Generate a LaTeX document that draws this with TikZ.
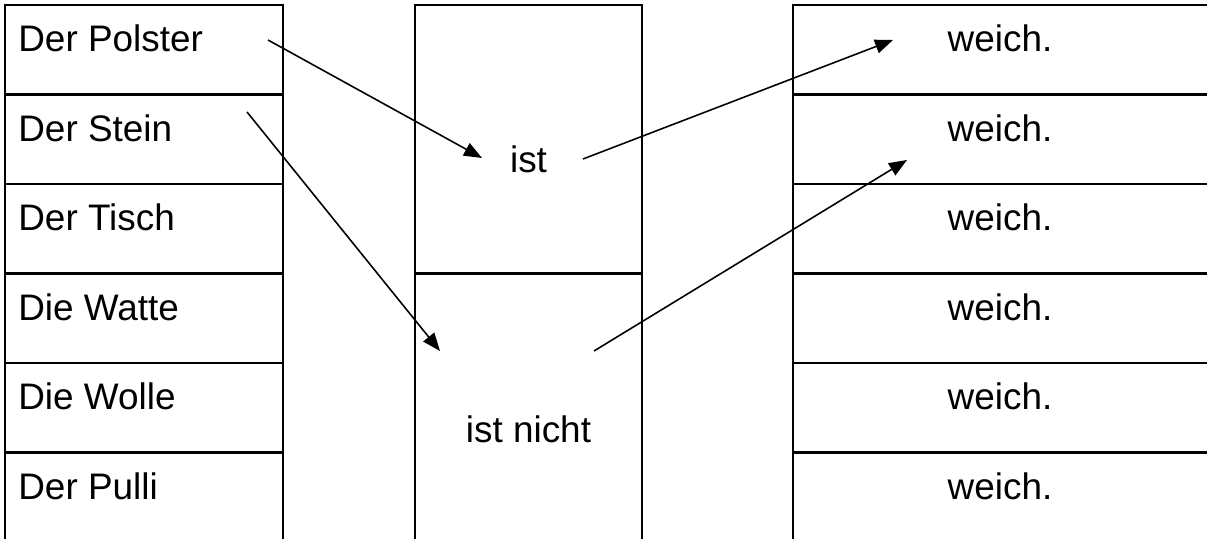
\documentclass[tikz,border=0pt]{standalone}
\usepackage{fontspec}
\setmainfont{Liberation Sans}
\usetikzlibrary{calc, positioning, arrows.meta}

\begin{document}
\begin{tikzpicture}[
  box/.style={line width=1.3pt},
  word/.style={anchor=base west, inner sep=0pt, font=\fontsize{21}{25}\selectfont},
  ending/.style={anchor=base, inner sep=0pt, font=\fontsize{21}{25}\selectfont},
  link/.style={line width=0.9pt, -{Triangle[length=0.36cm, width=0.28cm]}}
]
\useasboundingbox (0,0) rectangle (24.14,10.78);

% Left column: subjects
\draw[box] (0.10,0) -- (0.10,10.68) -- (5.66,10.68) -- (5.66,0);
\draw[box] (0.10,8.89) -- (5.66,8.89);
\draw[box] (0.10,7.10) -- (5.66,7.10);
\draw[box] (0.10,5.31) -- (5.66,5.31);
\draw[box] (0.10,3.52) -- (5.66,3.52);
\draw[box] (0.10,1.73) -- (5.66,1.73);
\node[word] (polster) at (0.36,9.74) {Der Polster};
\node[word] (stein) at (0.36,7.95) {Der Stein};
\node[word] (tisch) at (0.36,6.16) {Der Tisch};
\node[word] (watte) at (0.36,4.37) {Die Watte};
\node[word] (wolle) at (0.36,2.58) {Die Wolle};
\node[word] (pulli) at (0.36,0.78) {Der Pulli};

% Middle column: verb
\draw[box] (8.30,0) -- (8.30,10.68) -- (12.84,10.68) -- (12.84,0);
\draw[box] (8.30,5.31) -- (12.84,5.31);
\node[ending] (ist) at (10.57,7.32) {ist};
\node[ending] (istnicht) at (10.57,1.92) {ist nicht};

% Right column: adjective
\draw[box] (24.14,10.68) -- (15.86,10.68) -- (15.86,0);
\draw[box] (15.86,8.89) -- (24.14,8.89);
\draw[box] (15.86,7.10) -- (24.14,7.10);
\draw[box] (15.86,5.31) -- (24.14,5.31);
\draw[box] (15.86,3.52) -- (24.14,3.52);
\draw[box] (15.86,1.73) -- (24.14,1.73);
\node[ending] (weich1) at (20.00,9.74) {weich.};
\node[ending] (weich2) at (20.00,7.95) {weich.};
\node[ending] (weich3) at (20.00,6.16) {weich.};
\node[ending] (weich4) at (20.00,4.37) {weich.};
\node[ending] (weich5) at (20.00,2.58) {weich.};
\node[ending] (weich6) at (20.00,0.78) {weich.};

% Connections
\coordinate (polster-out) at (5.36,9.98);
\coordinate (ist-in) at (9.64,7.62);
\coordinate (stein-out) at (4.94,8.54);
\coordinate (nicht-in) at (8.80,3.76);
\coordinate (ist-out) at (11.66,7.60);
\coordinate (weich1-in) at (17.86,9.98);
\coordinate (nicht-out) at (11.88,3.76);
\coordinate (weich2-in) at (18.14,7.58);
\draw[link] (polster-out) -- (ist-in);
\draw[link] (stein-out) -- (nicht-in);
\draw[link] (ist-out) -- (weich1-in);
\draw[link] (nicht-out) -- (weich2-in);
\end{tikzpicture}
\end{document}
